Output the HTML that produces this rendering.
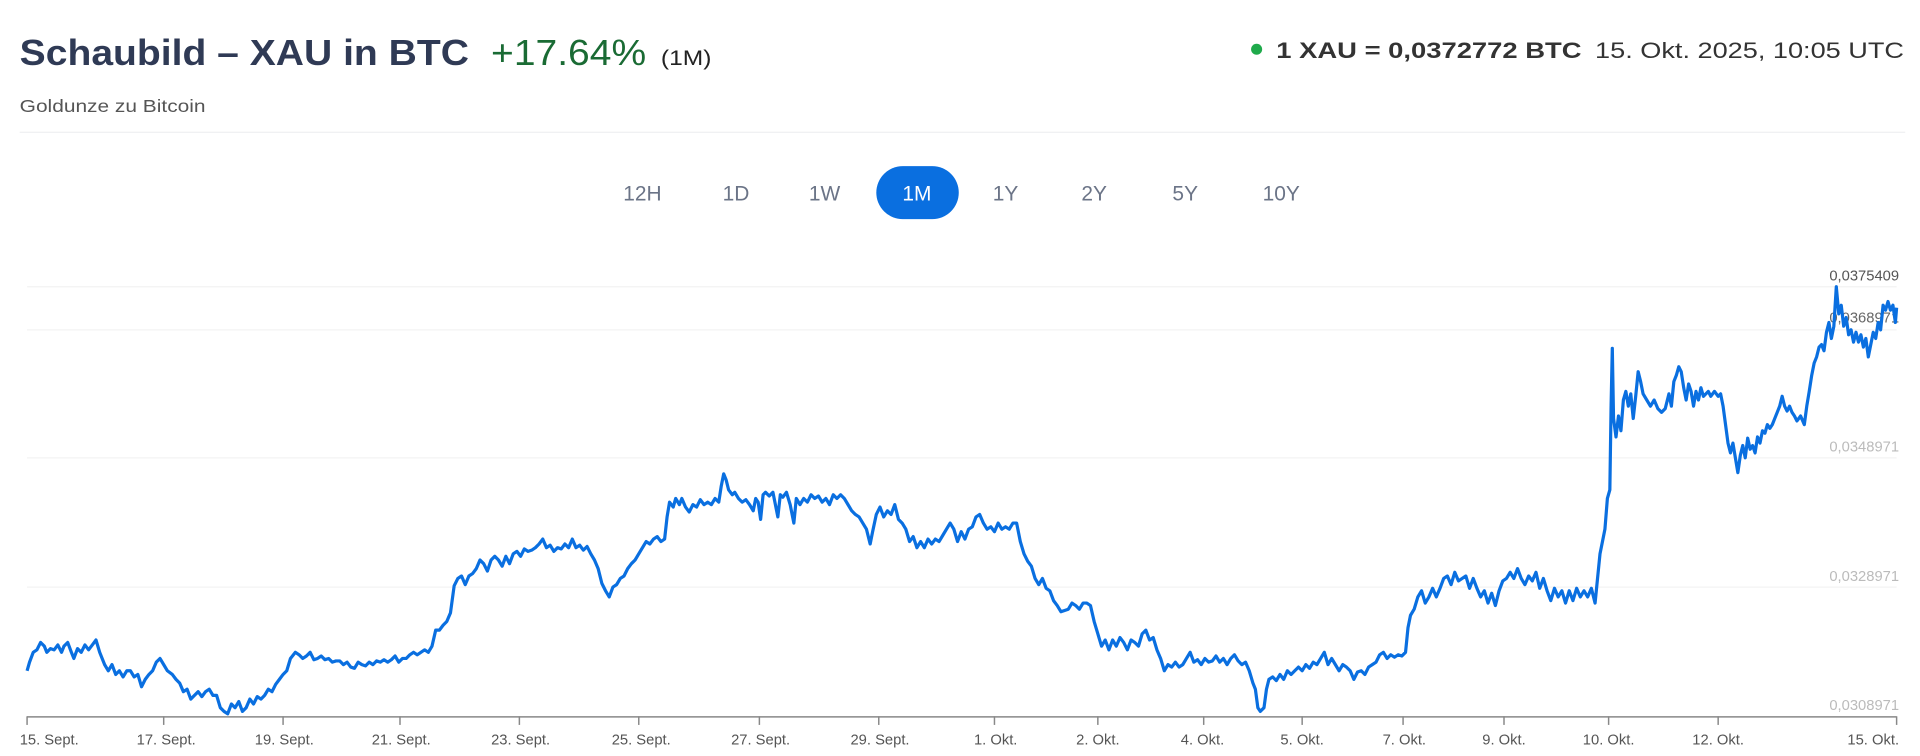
<!DOCTYPE html>
<html><head><meta charset="utf-8"><style>
html,body{margin:0;padding:0;background:#fff;width:1920px;height:756px;overflow:hidden}
svg{display:block}
text{font-family:"Liberation Sans",sans-serif}
</style></head><body>
<svg width="1920" height="756" viewBox="0 0 1560 614.25" preserveAspectRatio="none" xmlns="http://www.w3.org/2000/svg">
<text x="16" y="53" font-size="29" font-weight="bold" fill="#2f3a55" textLength="365" lengthAdjust="spacingAndGlyphs">Schaubild – XAU in BTC</text>
<text x="399" y="53" font-size="29" fill="#1a6b34" textLength="126" lengthAdjust="spacingAndGlyphs">+17.64%</text>
<text x="537" y="53" font-size="17" fill="#222" textLength="41" lengthAdjust="spacingAndGlyphs">(1M)</text>
<text x="16" y="91" font-size="14" fill="#555" textLength="151" lengthAdjust="spacingAndGlyphs">Goldunze zu Bitcoin</text>
<circle cx="1021" cy="40" r="4.5" fill="#1faa4b"/>
<text x="1037" y="47" font-size="18" font-weight="bold" fill="#333" textLength="248" lengthAdjust="spacingAndGlyphs">1 XAU = 0,0372772 BTC</text>
<text x="1296" y="47" font-size="18" fill="#333" textLength="251" lengthAdjust="spacingAndGlyphs">15. Okt. 2025, 10:05 UTC</text>
<line x1="16" y1="107.5" x2="1548" y2="107.5" stroke="#f0f1f3" stroke-width="1.2"/>
<rect x="712" y="135" width="67" height="43" rx="21.5" fill="#0a6fe0"/>
<g font-size="17" text-anchor="middle" fill="#6b7487">
<text x="522" y="163">12H</text><text x="598" y="163">1D</text><text x="670" y="163">1W</text>
<text x="745" y="163" fill="#fff">1M</text><text x="817" y="163">1Y</text><text x="889" y="163">2Y</text>
<text x="963" y="163">5Y</text><text x="1041" y="163">10Y</text></g>
<g stroke="#f3f3f3" stroke-width="1">
<line x1="22" y1="233" x2="1541" y2="233"/><line x1="22" y1="268" x2="1541" y2="268"/>
<line x1="22" y1="372" x2="1541" y2="372"/><line x1="22" y1="477" x2="1541" y2="477"/></g>
<g font-size="12" text-anchor="end">
<text x="1543" y="228" fill="#555">0,0375409</text>
<text x="1543" y="262" fill="#666">0,0368971</text>
<text x="1543" y="367" fill="#bbb">0,0348971</text>
<text x="1543" y="472" fill="#bbb">0,0328971</text>
<text x="1543" y="577" fill="#bbb">0,0308971</text></g>
<polyline fill="none" stroke="#0a6fe0" stroke-width="2.6" stroke-linejoin="round" points="22,545 24,538 27,530 30,528 33,522 36,525 38,530 41,527 44,528 47,524 50,530 52,525 55,522 58,530 60,535 63,527 66,530 69,524 72,528 75,524 78,520 81,530 85,540 88,545 91,540 94,548 97,545 100,550 103,545 106,545 109,550 112,548 115,558 118,552 121,548 124,545 127,538 130,535 133,540 136,545 140,548 143,552 146,555 149,562 152,560 155,568 158,565 161,562 164,566 167,562 170,560 173,565 176,565 179,575 182,578 185,580 188,572 191,575 194,570 197,578 200,575 203,568 206,572 209,566 212,568 215,565 218,560 221,562 224,556 227,552 230,548 233,545 236,535 240,530 243,532 246,535 249,533 252,530 255,536 258,535 261,533 264,536 267,535 270,538 273,537 276,537 279,540 282,538 285,542 288,543 291,538 294,540 297,541 300,538 303,540 306,537 309,538 312,536 315,538 318,536 321,533 324,538 327,535 330,535 333,532 336,530 339,532 342,530 345,528 348,530 351,525 354,512 357,512 360,508 363,505 366,498 369,476 372,470 375,468 378,475 381,468 384,466 387,462 390,455 393,458 396,464 399,455 402,452 405,455 408,460 411,452 414,458 417,450 420,448 423,452 426,446 429,448 432,447 435,445 438,442 441,438 444,445 447,443 450,448 453,445 456,446 459,442 462,445 465,438 468,445 471,443 474,447 477,444 480,450 483,455 486,462 489,474 492,480 495,485 498,477 501,475 504,470 507,468 510,462 513,458 516,455 519,450 522,445 525,440 528,442 531,438 534,436 537,440 540,438 542,420 544,408 547,412 549,405 552,410 554,405 557,412 560,416 563,410 566,412 569,406 572,410 575,408 578,410 581,405 584,408 586,395 588,385 590,390 592,398 595,402 597,400 600,405 603,408 606,406 609,410 612,415 614,405 616,408 618,422 620,402 622,400 625,403 628,400 630,410 632,420 634,402 636,404 639,400 642,410 645,425 647,405 650,410 653,405 656,408 659,402 662,405 665,403 668,408 671,405 674,410 677,402 680,405 683,402 686,405 689,410 692,415 695,418 698,420 701,425 704,430 707,442 709,432 712,418 715,412 718,420 721,415 724,418 727,410 730,422 733,425 736,430 739,440 742,436 745,445 748,440 751,445 754,438 757,442 760,438 763,440 766,435 769,430 772,425 775,430 778,440 781,432 784,438 787,430 790,428 793,420 796,418 799,425 802,430 805,428 808,432 811,425 814,430 817,428 820,430 823,425 826,425 829,440 832,450 835,456 838,460 841,470 844,475 847,470 850,478 853,480 856,488 859,492 862,497 865,496 868,495 871,490 874,492 877,495 880,490 883,490 886,492 889,505 892,515 895,525 898,520 901,528 904,520 907,525 910,518 913,522 916,528 919,520 922,522 925,525 928,515 931,512 934,520 937,518 940,528 943,535 946,545 949,540 952,542 955,538 958,542 961,540 964,535 967,530 970,538 973,536 976,540 979,535 982,538 985,537 988,533 991,538 994,535 997,540 1000,535 1003,532 1006,537 1009,540 1012,538 1015,545 1018,555 1020,560 1022,575 1024,578 1027,575 1029,560 1031,552 1034,550 1037,553 1040,548 1043,552 1046,545 1049,548 1052,545 1055,542 1058,545 1061,540 1064,543 1067,538 1070,540 1073,535 1076,530 1079,540 1082,535 1085,540 1088,545 1091,540 1094,542 1097,545 1100,552 1103,546 1106,545 1109,548 1112,542 1115,540 1118,538 1121,532 1124,530 1127,535 1130,532 1133,534 1136,532 1139,533 1142,530 1144,510 1146,500 1149,495 1152,485 1155,480 1158,490 1161,485 1164,478 1167,485 1170,478 1173,470 1176,468 1179,475 1182,465 1185,472 1188,470 1191,468 1194,478 1197,470 1200,478 1203,485 1206,480 1209,490 1212,482 1215,492 1218,480 1221,472 1224,470 1227,465 1230,470 1233,462 1236,470 1239,475 1242,468 1245,472 1248,465 1251,478 1254,470 1257,480 1260,488 1263,478 1266,485 1269,480 1272,490 1275,480 1278,488 1281,478 1284,485 1287,480 1290,485 1293,478 1296,490 1298,470 1300,450 1302,440 1304,430 1306,405 1308,398 1309,330 1310,283 1311,340 1313,355 1315,338 1317,350 1319,325 1321,318 1323,330 1325,320 1327,340 1329,322 1331,302 1333,310 1335,320 1338,325 1341,330 1344,325 1347,332 1350,335 1353,332 1356,320 1358,330 1360,310 1362,305 1364,298 1366,302 1368,315 1370,325 1372,312 1374,318 1376,330 1378,318 1380,325 1382,315 1384,322 1386,320 1388,318 1390,322 1393,318 1396,322 1398,320 1400,330 1402,345 1404,360 1406,368 1408,360 1410,372 1412,384 1414,370 1416,362 1418,372 1420,356 1422,365 1424,362 1426,368 1428,355 1430,360 1432,350 1434,352 1436,345 1438,348 1440,345 1442,340 1444,335 1446,330 1448,322 1450,330 1452,334 1454,330 1456,335 1458,338 1460,342 1463,338 1466,345 1468,330 1470,318 1472,305 1474,295 1476,290 1478,282 1480,280 1482,285 1484,270 1486,262 1488,275 1490,265 1492,233 1494,255 1496,248 1498,265 1500,258 1502,272 1504,268 1506,278 1508,270 1510,278 1512,272 1514,282 1516,275 1518,290 1520,280 1522,270 1524,275 1526,262 1528,268 1530,248 1532,252 1534,245 1536,252 1538,248 1540,262 1541,250"/>
<line x1="22" y1="582.5" x2="1541" y2="582.5" stroke="#888" stroke-width="1.2"/>
<g stroke="#888" stroke-width="1.2">
<line x1="22" y1="582" x2="22" y2="589"/><line x1="133" y1="582" x2="133" y2="589"/><line x1="230" y1="582" x2="230" y2="589"/><line x1="325" y1="582" x2="325" y2="589"/><line x1="422" y1="582" x2="422" y2="589"/><line x1="519" y1="582" x2="519" y2="589"/><line x1="617" y1="582" x2="617" y2="589"/><line x1="714" y1="582" x2="714" y2="589"/><line x1="808" y1="582" x2="808" y2="589"/><line x1="892" y1="582" x2="892" y2="589"/><line x1="978" y1="582" x2="978" y2="589"/><line x1="1058" y1="582" x2="1058" y2="589"/><line x1="1140" y1="582" x2="1140" y2="589"/><line x1="1222" y1="582" x2="1222" y2="589"/><line x1="1307" y1="582" x2="1307" y2="589"/><line x1="1396" y1="582" x2="1396" y2="589"/><line x1="1541" y1="582" x2="1541" y2="589"/></g>
<g font-size="12" fill="#555" text-anchor="middle">
<text x="40" y="605">15. Sept.</text><text x="135" y="605">17. Sept.</text><text x="231" y="605">19. Sept.</text><text x="326" y="605">21. Sept.</text><text x="423" y="605">23. Sept.</text><text x="521" y="605">25. Sept.</text><text x="618" y="605">27. Sept.</text><text x="715" y="605">29. Sept.</text><text x="809" y="605">1. Okt.</text><text x="892" y="605">2. Okt.</text><text x="977" y="605">4. Okt.</text><text x="1058" y="605">5. Okt.</text><text x="1141" y="605">7. Okt.</text><text x="1222" y="605">9. Okt.</text><text x="1307" y="605">10. Okt.</text><text x="1396" y="605">12. Okt.</text><text x="1522" y="605">15. Okt.</text></g>
</svg>
</body></html>
